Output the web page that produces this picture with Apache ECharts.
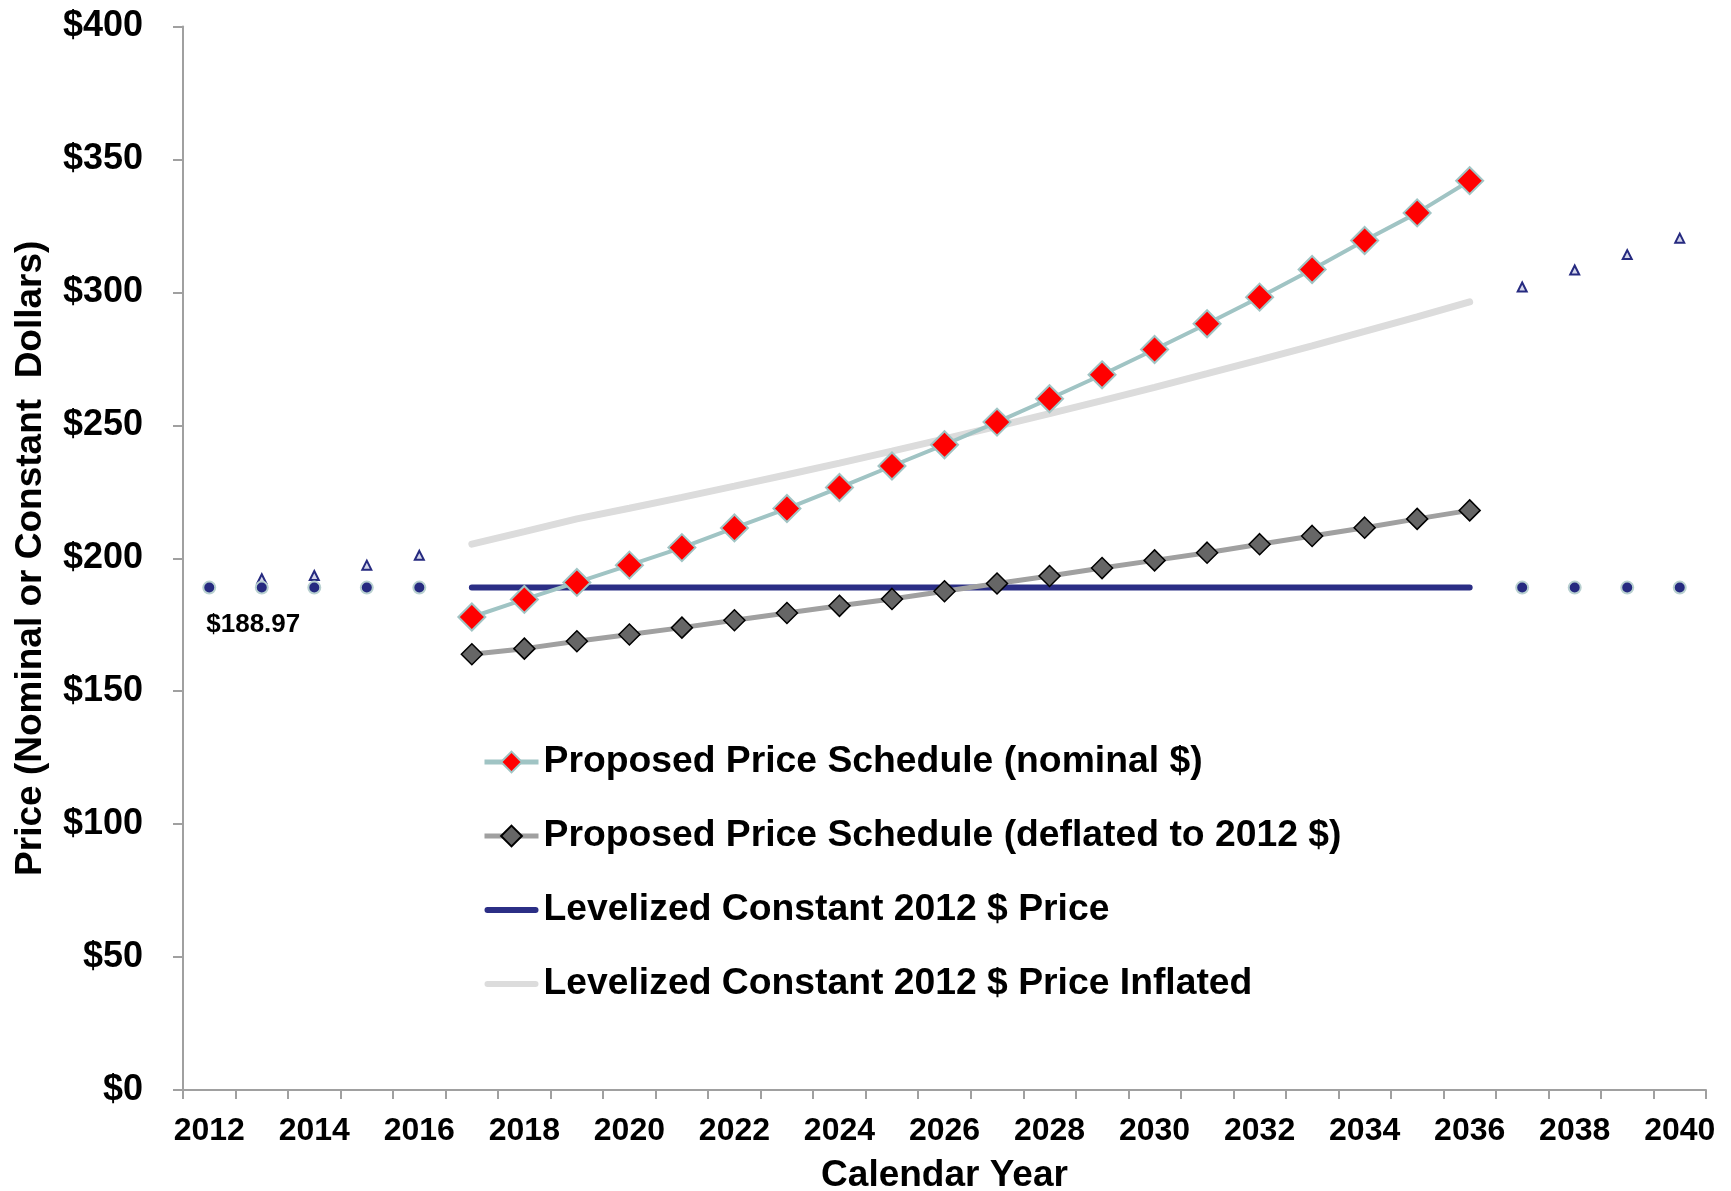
<!DOCTYPE html>
<html>
<head>
<meta charset="utf-8">
<script src="https://cdn.jsdelivr.net/npm/echarts@6/dist/echarts.min.js"></script>
<style>
html,body{margin:0;padding:0;background:#fff;}
#chart{width:1731px;height:1191px;}
</style>
</head>
<body>
<div id="chart"></div>
<script>
const years = ['2012','2013','2014','2015','2016','2017','2018','2019','2020','2021','2022','2023','2024','2025','2026','2027','2028','2029','2030','2031','2032','2033','2034','2035','2036','2037','2038','2039','2040'];
const yTicks = [0, 50, 100, 150, 200, 250, 300, 350, 400];

const nominal = [null,null,null,null,null,
  177.9,184.5,190.9,197.4,204.0,211.4,218.7,226.6,234.7,242.7,251.2,260.0,269.0,278.5,288.2,298.2,308.6,319.5,329.9,342.0,
  null,null,null,null];
const deflated = [null,null,null,null,null,
  163.9,166.0,168.8,171.3,173.9,176.7,179.4,182.1,184.7,187.6,190.5,193.3,196.3,199.2,202.1,205.3,208.4,211.5,214.8,218.0,
  null,null,null,null];
const levelized = [null,null,null,null,null,
  188.97,188.97,188.97,188.97,188.97,188.97,188.97,188.97,188.97,188.97,188.97,188.97,188.97,188.97,188.97,188.97,188.97,188.97,188.97,188.97,
  null,null,null,null];
const inflated = [null,null,null,null,null,
  205.3,210.0,214.8,218.8,222.9,227.1,231.4,235.8,240.3,244.9,249.6,254.4,259.3,264.3,269.4,274.6,279.9,285.3,290.8,296.4,
  null,null,null,null];
const levelDots = [188.97,188.97,188.97,188.97,188.97,
  null,null,null,null,null,null,null,null,null,null,null,null,null,null,null,null,null,null,null,null,
  188.97,188.97,188.97,188.97];
const triangles = [null,192.3,193.5,197.4,201.1,
  null,null,null,null,null,null,null,null,null,null,null,null,null,null,null,null,null,null,null,null,
  302.0,308.4,314.2,320.4];
const levelLabel = '$188.97';

const names = [
  'Proposed Price Schedule (nominal $)',
  'Proposed Price Schedule (deflated to 2012 $)',
  'Levelized Constant 2012 $ Price',
  'Levelized Constant 2012 $ Price Inflated'
];

const FONT = '"Liberation Sans", Arial, sans-serif';
const LINE_ICON = 'path://M3,0 L51,0 A3,3 0 0 1 51,6 L3,6 A3,3 0 0 1 3,0 Z';
const chart = echarts.init(document.getElementById('chart'));

const dotData = levelDots.map((v, i) => {
  if (i === 0) {
    return {value: v, label: {show: true, formatter: levelLabel, position: [4, 31], align: 'left', verticalAlign: 'top',
      fontFamily: FONT, fontWeight: 'bold', fontSize: 26, color: '#000', opacity: 1}};
  }
  return v;
});

chart.setOption({
  animation: false,
  backgroundColor: '#fff',
  grid: {left: 183, right: 25, top: 26.5, bottom: 101, containLabel: false, outerBoundsMode: 'none'},
  legend: {
    data: [
      {name: names[0]},
      {name: names[1]},
      {name: names[2], icon: LINE_ICON},
      {name: names[3], icon: LINE_ICON}
    ],
    orient: 'vertical',
    left: 477,
    top: 737,
    itemWidth: 54,
    itemHeight: 26,
    itemGap: 34,
    symbolKeepAspect: true,
    lineStyle: {width: 5},
    textStyle: {fontFamily: FONT, fontWeight: 'bold', fontSize: 37.3, color: '#000', lineHeight: 40},
    selectedMode: false
  },
  xAxis: {
    type: 'category',
    data: years,
    boundaryGap: true,
    name: 'Calendar Year',
    nameLocation: 'middle',
    nameGap: 67,
    nameTextStyle: {fontFamily: FONT, fontWeight: 'bold', fontSize: 37, color: '#000'},
    axisLine: {show: true, lineStyle: {color: '#a0a0a0', width: 2}},
    axisTick: {show: true, interval: 0, length: 9, lineStyle: {color: '#a0a0a0', width: 2}},
    axisLabel: {interval: 1, margin: 25, fontFamily: FONT, fontWeight: 'bold', fontSize: 32, color: '#000'},
    splitLine: {show: false}
  },
  yAxis: {
    type: 'value',
    min: yTicks[0],
    max: yTicks[yTicks.length - 1],
    interval: 50,
    name: 'Price (Nominal or Constant  Dollars)',
    nameLocation: 'middle',
    nameGap: 134,
    nameTextStyle: {fontFamily: FONT, fontWeight: 'bold', fontSize: 37, color: '#000'},
    axisLine: {show: true, lineStyle: {color: '#a0a0a0', width: 2}},
    axisTick: {show: true, length: 10, lineStyle: {color: '#a0a0a0', width: 2}},
    axisLabel: {margin: 40, formatter: v => '$' + v, fontFamily: FONT, fontWeight: 'bold', fontSize: 36, color: '#000'},
    splitLine: {show: false}
  },
  series: [
    {
      name: names[3], type: 'line', data: inflated, showSymbol: false, symbol: 'none',
      lineStyle: {color: '#dcdcdc', width: 7, cap: 'round'}, itemStyle: {color: '#dcdcdc'}, z: 2
    },
    {
      name: names[2], type: 'line', data: levelized, showSymbol: false, symbol: 'none',
      lineStyle: {color: '#2b2e85', width: 6, cap: 'round'}, itemStyle: {color: '#2b2e85'}, z: 3
    },
    {
      name: names[1], type: 'line', data: deflated, symbol: 'diamond', symbolSize: 21,
      lineStyle: {color: '#a0a0a0', width: 5}, itemStyle: {color: '#666666', borderColor: '#000', borderWidth: 1.5}, z: 4
    },
    {
      name: names[0], type: 'line', data: nominal, symbol: 'diamond', symbolSize: 27,
      lineStyle: {color: '#a0c4c4', width: 4}, itemStyle: {color: '#ff0000', borderColor: '#a0c4c4', borderWidth: 2}, z: 5
    },
    {
      name: 'triangles', type: 'scatter', data: triangles, symbol: 'triangle', symbolSize: 9,
      itemStyle: {color: '#d4d6ea', borderColor: '#262a80', borderWidth: 2, opacity: 1}, z: 6
    },
    {
      name: 'dots', type: 'scatter', data: dotData, symbol: 'circle', symbolSize: 12,
      itemStyle: {color: '#262a80', borderColor: '#b8d0d0', borderWidth: 2, opacity: 1}, z: 7
    }
  ]
});
</script>
</body>
</html>
